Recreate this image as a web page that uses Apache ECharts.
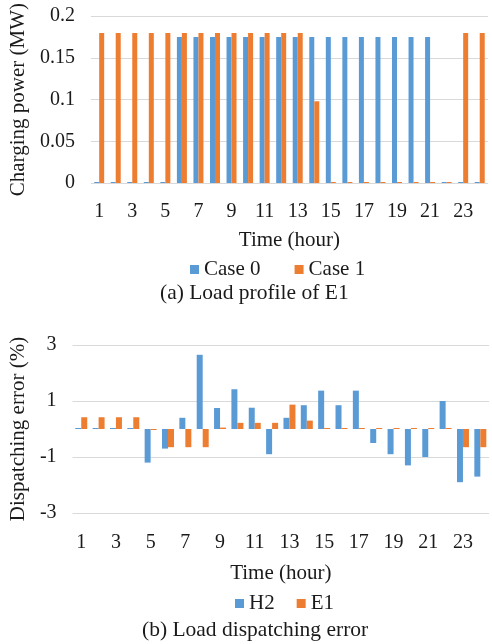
<!DOCTYPE html>
<html>
<head>
<meta charset="utf-8">
<script src="https://cdn.jsdelivr.net/npm/echarts@6/dist/echarts.min.js"></script>
<style>html,body{margin:0;padding:0;background:#fff}#c{width:492px;height:644px}</style>
</head>
<body>
<div id="c"></div>
<script>
const hours = ['1','2','3','4','5','6','7','8','9','10','11','12','13','14','15','16','17','18','19','20','21','22','23','24'];
// (a) Load profile of E1 (MW)
const case0 = [0,0,0,0,0,0.175,0.175,0.175,0.175,0.175,0.175,0.175,0.175,0.175,0.175,0.175,0.175,0.175,0.175,0.175,0.175,0,0,0];
const case1 = [0.18,0.18,0.18,0.18,0.18,0.18,0.18,0.18,0.18,0.18,0.18,0.18,0.18,0.098,0,0,0,0,0,0,0,0,0.18,0.18];
// (b) Load dispatching error (%)
const h2 = [0,0,0,0,-1.2,-0.7,0.4,2.65,0.75,1.42,0.76,-0.9,0.4,0.85,1.37,0.85,1.37,-0.5,-0.9,-1.3,-1.0,1.0,-1.9,-1.7];
const e1 = [0.42,0.42,0.42,0.42,-0.03,-0.65,-0.65,-0.65,0.05,0.22,0.22,0.22,0.87,0.3,0,0,0,0,0,0,0,0,-0.65,-0.65];
const yTicksTop = [0, 0.05, 0.1, 0.15, 0.2];
const yTicksBottom = [-3, -1, 1, 3];

const FONT = '"Liberation Serif","Times New Roman",serif';
const TXT = '#1a1a1a';
const BLUE = '#5B9BD5', ORANGE = '#ED7D31';
const FS = 21;
const chart = echarts.init(document.getElementById('c'), null, {renderer: 'canvas'});

function xAxis(gridIndex, nameGap, margin) {
  return {
    type: 'category', gridIndex, data: hours,
    axisLine: {show: false}, axisTick: {show: false},
    axisLabel: {interval: 1, fontFamily: FONT, fontSize: 20, color: TXT, margin},
    name: 'Time (hour)', nameLocation: 'middle', nameGap,
    nameTextStyle: {fontFamily: FONT, fontSize: FS, color: TXT}
  };
}
function yAxis(gridIndex, name, min, max, interval, nameGap) {
  return {
    type: 'value', gridIndex, min, max, interval,
    axisLine: {show: false}, axisTick: {show: false},
    axisLabel: {fontFamily: FONT, fontSize: 20, color: TXT, margin: 16},
    splitLine: {lineStyle: {color: '#d9d9d9', width: 1}},
    name, nameLocation: 'middle', nameGap, nameRotate: 90,
    nameTextStyle: {fontFamily: FONT, fontSize: FS, color: TXT}
  };
}

chart.setOption({
  animation: false,
  backgroundColor: '#fff',
  title: [
    {text: '(a) Load profile of E1', left: 160, top: 282, textStyle: {fontFamily: FONT, fontSize: 21.5, fontWeight: 'normal', color: TXT}, padding: 0},
    {text: '(b) Load dispatching error', left: 142, top: 619, textStyle: {fontFamily: FONT, fontSize: 21.5, fontWeight: 'normal', color: TXT}, padding: 0}
  ],
  legend: [
    {data: ['Case 0', 'Case 1'], left: 190, top: 259, icon: 'rect', itemWidth: 9, itemHeight: 9, itemGap: 34, padding: 0,
     textStyle: {fontFamily: FONT, fontSize: FS, color: TXT}},
    {data: ['H2', 'E1'], left: 235, top: 593, icon: 'rect', itemWidth: 9, itemHeight: 9, itemGap: 22, padding: 0,
     textStyle: {fontFamily: FONT, fontSize: FS, color: TXT}}
  ],
  grid: [
    {left: 89, right: 4, top: 11, height: 172},
    {left: 70, right: 3, top: 345, height: 168}
  ],
  xAxis: [xAxis(0, 47, 19), xAxis(1, 50, 20)],
  yAxis: [
    yAxis(0, 'Charging power (MW)', yTicksTop[0], yTicksTop[yTicksTop.length-1], 0.05, 60),
    yAxis(1, 'Dispatching error (%)', yTicksBottom[0], yTicksBottom[yTicksBottom.length-1], 2, 41)
  ],
  series: [
    {name: 'Case 0', type: 'bar', xAxisIndex: 0, yAxisIndex: 0, data: case0, barWidth: 5, barGap: '0%', barMinHeight: 1, itemStyle: {color: BLUE}},
    {name: 'Case 1', type: 'bar', xAxisIndex: 0, yAxisIndex: 0, data: case1, barWidth: 5, barGap: '0%', barMinHeight: 1, itemStyle: {color: ORANGE}},
    {name: 'H2', type: 'bar', xAxisIndex: 1, yAxisIndex: 1, data: h2, barWidth: 6, barGap: '0%', barMinHeight: 1, itemStyle: {color: BLUE}},
    {name: 'E1', type: 'bar', xAxisIndex: 1, yAxisIndex: 1, data: e1, barWidth: 6, barGap: '0%', barMinHeight: 1, itemStyle: {color: ORANGE}}
  ]
});
</script>
</body>
</html>
